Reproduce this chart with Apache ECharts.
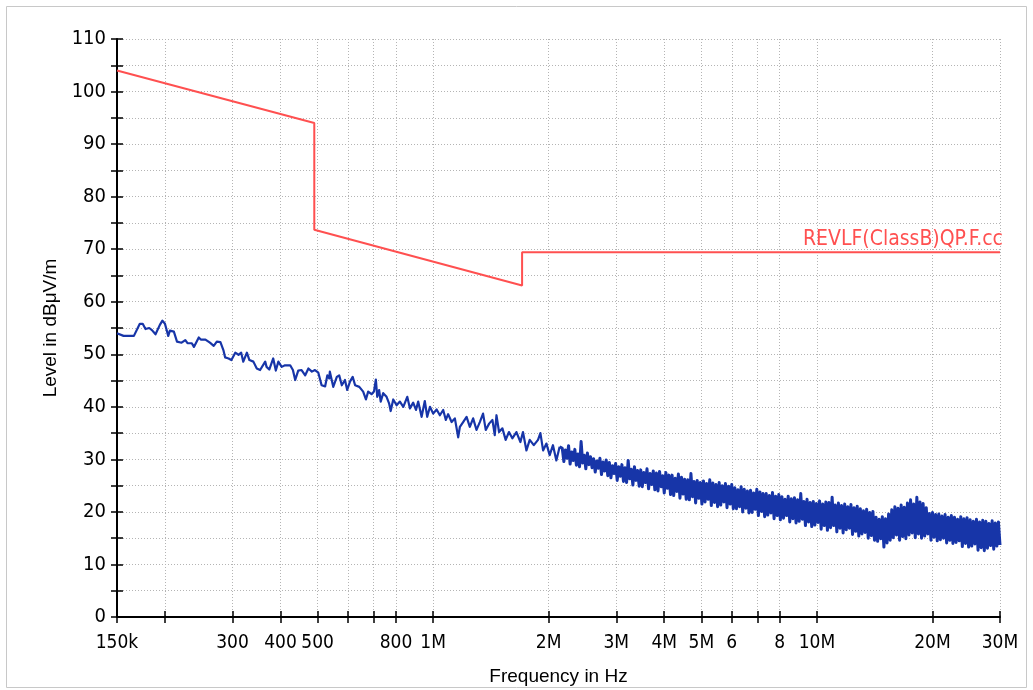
<!DOCTYPE html>
<html>
<head>
<meta charset="utf-8">
<script src="https://cdn.jsdelivr.net/npm/echarts@6/dist/echarts.min.js"></script>
<style>
html,body{margin:0;padding:0;background:#ffffff;}
#chart{width:1033px;height:690px;}
</style>
</head>
<body>
<div id="chart"></div>
<script>
// ---- axis ticks / labels ----
const xTickValues = [150e3, 200e3, 300e3, 400e3, 500e3, 600e3, 700e3, 800e3, 1e6, 2e6, 3e6, 4e6, 5e6, 6e6, 7e6, 8e6, 10e6, 20e6, 30e6];
const xLabelValues = [150e3, 300e3, 400e3, 500e3, 800e3, 1e6, 2e6, 3e6, 4e6, 5e6, 6e6, 8e6, 10e6, 20e6, 30e6];
const xLabelTexts = ['150k', '300', '400', '500', '800', '1M', '2M', '3M', '4M', '5M', '6', '8', '10M', '20M', '30M'];
const yMin = 0, yMax = 110, yStep = 5;

// ---- limit line (REVLF(ClassB)QP.F.cc) ----
const limitFreqHz = [150000, 490000, 490000, 1705000, 1705000, 30000000];
const limitLevel = [104.0, 94.0, 73.7, 63.1, 69.4, 69.4];
const limitName = 'REVLF(ClassB)QP.F.cc';

// ---- measured trace, low band (explicit frequencies, kHz) ----
const sweepLowFreqKHz = [150,156,166,172,175,178,182,185,189,194,197,200,204,206,211,215,221,226,229,235,
  238,245,248,255,262,268,273,279,284,287,293,298,305,311,316,320,327,332,340,347,
  354,365,368,374,383,389,395,403,411,424,431,437,445,454,464,473,483,492,502,512,
  523,530,536,
  538,549,561,569,578,589,597,607,617,626,642,657,668,677,691,701,709,715,723,730,
  741,756,768,775,787,803,819,836,856,870,887,902,914,933,951,965,981,1000,1021,1041,
  1062,1079,1094,1117,1139,1162,1174,1197,1222,1246,1271,1297,1323,1349,1371,1399,1427,1447,1462,1485,
  1515,1545,1576,1608,1648,1688,1714,1750,1785,1829,1876,1903,1934,1973,2012,2052,2094,2136];
const sweepLowLevel = [54.0,53.5,53.5,55.8,55.8,54.8,55.0,54.6,53.8,55.6,56.4,55.8,53.5,54.5,54.3,52.4,52.2,52.7,52.1,52.1,
  51.4,53.2,52.8,52.8,52.2,51.6,52.4,52.3,50.8,49.4,49.2,48.9,50.3,49.9,50.3,48.6,50.3,48.9,48.6,47.3,
  47.0,48.6,47.6,47.1,49.2,46.9,48.6,47.6,47.9,47.9,47.0,45.1,46.9,47.0,46.0,47.3,46.7,47.0,46.5,44.1,
  43.9,46.0,45.4,
  46.7,43.8,45.7,46.0,44.1,45.1,43.2,44.8,45.7,44.1,43.8,42.9,41.4,42.9,42.4,42.9,45.2,41.9,43.2,41.0,
  42.6,41.9,40.6,39.2,41.4,40.3,41.0,40.0,41.9,39.7,40.8,39.4,41.0,38.1,41.1,38.1,40.0,38.7,39.5,38.4,
  39.4,37.5,38.6,37.1,37.8,34.2,36.2,37.1,38.1,36.2,37.8,35.6,37.1,38.7,35.6,36.8,37.5,34.6,38.4,35.2,
  35.9,33.7,35.2,34.0,35.2,33.3,35.2,31.7,33.7,32.7,33.7,35.0,31.7,33.0,30.8,32.7,29.8,32.4];

// ---- measured trace, high band (receiver log sweep 2.17 MHz .. 30 MHz) ----
const sweepHighStartHz = 2170000;
const sweepHighStopHz = 30000000;
const sweepHighLevel = [
  32.1,29.6,31.8,30.2,32.6,29.1,31.4,29.8,31.9,28.9,
  31.0,28.6,33.4,29.3,30.8,28.2,31.2,29.0,30.5,28.4,
  30.1,27.6,29.7,28.3,30.2,27.1,29.5,27.8,29.9,26.9,
  29.4,26.5,28.8,27.3,29.2,26.0,28.6,26.8,29.0,25.8,
  28.4,25.6,29.8,26.3,28.1,25.1,28.6,26.0,27.9,24.9,
  28.0,24.8,27.5,25.6,28.2,24.4,27.3,25.2,27.8,24.2,
  27.4,24.0,27.7,24.8,26.9,23.6,27.5,24.5,27.0,23.3,
  27.0,23.1,26.4,23.9,27.2,22.6,26.6,23.4,26.2,22.4,
  26.1,22.3,27.3,22.9,25.8,21.7,26.0,22.6,25.6,21.5,
  25.9,21.9,25.4,22.4,26.1,21.2,25.5,21.8,25.2,21.0,
  25.6,21.3,25.0,21.9,25.4,20.8,24.9,21.5,25.2,20.6,
  24.6,20.6,24.2,21.0,24.8,20.0,24.3,20.7,24.0,19.8,
  24.1,19.9,23.6,20.5,24.3,19.3,23.8,20.1,23.5,19.1,
  23.5,19.4,23.1,19.8,23.7,18.7,23.0,19.3,23.3,18.5,
  22.9,18.8,22.4,19.3,23.0,18.1,22.5,18.7,22.7,17.9,
  22.3,18.2,23.5,18.6,22.0,17.4,22.4,18.1,21.8,17.2,
  22.0,17.5,21.6,18.0,22.1,16.7,21.5,17.4,21.9,16.5,
  21.8,17.0,22.8,17.4,21.3,16.2,21.7,16.9,21.2,16.0,
  21.5,16.6,21.0,16.9,21.4,15.7,20.8,16.3,21.1,15.4,
  20.6,15.8,20.2,16.1,20.5,15.0,19.9,15.5,20.1,14.6,
  19.0,14.4,18.6,14.9,19.1,13.3,18.7,14.1,19.6,14.6,
  20.4,15.1,21.0,15.6,20.7,14.6,21.3,15.3,20.9,14.9,
  21.7,15.6,22.3,16.0,21.5,15.1,22.8,15.8,21.9,15.0,
  21.6,15.4,20.8,15.8,19.7,14.6,19.9,15.2,19.5,14.5,
  19.6,14.7,19.2,15.0,19.5,14.1,19.0,14.6,19.3,14.0,
  19.0,14.2,18.6,14.5,19.1,13.4,18.7,14.0,18.9,13.3,
  18.5,13.5,18.2,13.9,18.6,12.7,18.1,13.2,18.4,12.6,
  18.2,13.1,17.8,13.6,18.3,12.9,17.9,13.5,18.1,13.7];

// ---- build series data ----
const traceLowData = [];
for (let i = 0; i < sweepLowFreqKHz.length; i++) traceLowData.push([sweepLowFreqKHz[i] * 1000, sweepLowLevel[i]]);
const traceHighData = [traceLowData[traceLowData.length - 1]];
const nHigh = sweepHighLevel.length;
const lgA = Math.log10(sweepHighStartHz), lgB = Math.log10(sweepHighStopHz);
for (let i = 0; i < nHigh; i++) {
  const f = Math.pow(10, lgA + (lgB - lgA) * i / (nHigh - 1));
  traceHighData.push([f, sweepHighLevel[i]]);
}
const limitData = limitFreqHz.map((f, i) => [f, limitLevel[i]]);

const tickFont = '"Liberation Sans Narrow", "DejaVu Sans Condensed", "Liberation Sans", Arial, sans-serif';
const titleFont = '"Liberation Sans", Arial, sans-serif';
const traceColor = '#1735a8';

function xLabelFmt(v) {
  for (let i = 0; i < xLabelValues.length; i++) {
    if (Math.abs(v / xLabelValues[i] - 1) < 1e-4) return xLabelTexts[i];
  }
  return '';
}

const chart = echarts.init(document.getElementById('chart'), null, {renderer: 'canvas'});
const option = {
  backgroundColor: '#ffffff',
  animation: false,
  grid: {left: 117, right: 33, top: 39, bottom: 73, containLabel: false, outerBoundsMode: 'none'},
  xAxis: [
    {
      type: 'log', logBase: 10, min: 150000, max: 30000000, position: 'bottom',
      name: 'Frequency in Hz', nameLocation: 'middle', nameGap: 50,
      nameTextStyle: {color: '#000', fontFamily: titleFont, fontSize: 19},
      axisLine: {show: true, onZero: false, lineStyle: {color: '#000', width: 2}},
      axisTick: {show: true, inside: false, length: 6, lineStyle: {color: '#000', width: 1.5}, customValues: xTickValues},
      axisLabel: {show: true, customValues: xLabelValues, formatter: xLabelFmt, color: '#000', fontFamily: tickFont, fontSize: 19, margin: 17, hideOverlap: false},
      splitLine: {show: true, lineStyle: {color: '#b4b4b4', width: 1, type: [1, 2]}},
      minorTick: {show: false}, minorSplitLine: {show: false}
    },
    {
      type: 'log', logBase: 10, min: 150000, max: 30000000, position: 'bottom', offset: 0,
      axisLine: {show: false},
      axisTick: {show: true, inside: true, length: 6, lineStyle: {color: '#000', width: 1.5}, customValues: xTickValues},
      axisLabel: {show: false},
      splitLine: {show: false}
    }
  ],
  yAxis: [
    {
      type: 'value', min: yMin, max: yMax, interval: yStep, position: 'left',
      name: 'Level in dB\u03bcV/m', nameLocation: 'middle', nameGap: 51, nameRotate: 90,
      nameTextStyle: {color: '#000', fontFamily: titleFont, fontSize: 19},
      axisLine: {show: true, onZero: false, lineStyle: {color: '#000', width: 2}},
      axisTick: {show: true, inside: false, length: 6, lineStyle: {color: '#000', width: 1.5}},
      axisLabel: {show: true, color: '#000', fontFamily: tickFont, fontSize: 20, margin: 11,
        formatter: v => (v % 10 === 0 ? String(v) : '')},
      splitLine: {show: true, lineStyle: {color: '#b4b4b4', width: 1, type: [1, 2]}}
    },
    {
      type: 'value', min: yMin, max: yMax, interval: yStep, position: 'left', offset: 0,
      axisLine: {show: false},
      axisTick: {show: true, inside: true, length: 6, lineStyle: {color: '#000', width: 1.5}},
      axisLabel: {show: false},
      splitLine: {show: false}
    }
  ],
  series: [
    {
      name: limitName, type: 'line', xAxisIndex: 0, yAxisIndex: 0,
      data: limitData, showSymbol: false, symbol: 'none', silent: true,
      lineStyle: {color: '#ff5050', width: 2},
      z: 3,
      markPoint: {
        symbol: 'circle', symbolSize: 0, silent: true,
        data: [{coord: [limitFreqHz[limitFreqHz.length - 1], limitLevel[limitLevel.length - 1]]}],
        label: {show: true, position: 'top', align: 'right', distance: 2, formatter: limitName,
          color: '#ff5050', fontFamily: tickFont, fontSize: 21, offset: [3, 0]}
      }
    },
    {
      name: 'trace low', type: 'line', xAxisIndex: 0, yAxisIndex: 0,
      data: traceLowData, showSymbol: false, symbol: 'none', silent: true, sampling: null,
      lineStyle: {color: traceColor, width: 2.2, join: 'round'},
      z: 4
    },
    {
      name: 'trace high', type: 'line', xAxisIndex: 0, yAxisIndex: 0,
      data: traceHighData, showSymbol: false, symbol: 'none', silent: true, sampling: null,
      lineStyle: {color: traceColor, width: 3, join: 'round'},
      z: 4
    }
  ],
  graphic: [
    {type: 'rect', shape: {x: 6.5, y: 6.5, width: 1020, height: 681}, style: {fill: 'none', stroke: '#c8c8c8', lineWidth: 1}, silent: true, z: -10}
  ]
};
chart.setOption(option);
</script>
</body>
</html>
